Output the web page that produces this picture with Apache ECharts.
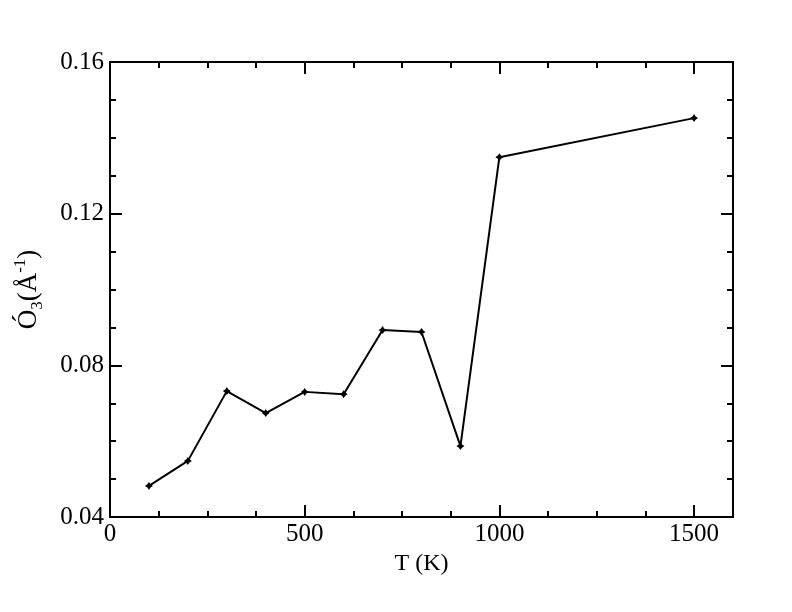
<!DOCTYPE html>
<html>
<head>
<meta charset="utf-8">
<script src="https://cdn.jsdelivr.net/npm/echarts@6/dist/echarts.min.js"></script>
<style>html,body{margin:0;padding:0;background:#fff}#c{width:792px;height:612px}</style>
</head>
<body>
<div id="c"></div>
<script>
const temperatures = [100, 200, 300, 400, 500, 600, 700, 800, 900, 1000, 1500];
const sigma3 = [0.0482, 0.0548, 0.0732, 0.0674, 0.0730, 0.0724, 0.0893, 0.0888, 0.0587, 0.1349, 0.1452];
const xTickLabels = ['0', '500', '1000', '1500'];
const yTickLabels = ['0.04', '0.08', '0.12', '0.16'];

const font = '"Liberation Serif", "Times New Roman", serif';
const chart = echarts.init(document.getElementById('c'), null, {renderer: 'canvas'});

function xAxisDef(pos, interval, tickLen, showLabel) {
  return {
    type: 'value', position: pos, min: 0, max: 1600, interval: interval,
    axisLine: {show: true, onZero: false, lineStyle: {color: '#000', width: 2}},
    axisTick: {show: true, inside: true, length: tickLen, lineStyle: {color: '#000', width: 2}},
    splitLine: {show: false},
    axisLabel: {
      show: showLabel, margin: 5, color: '#000', fontFamily: font, fontSize: 25,
      showMaxLabel: false,
      formatter: v => (xTickLabels.includes(String(v)) ? String(v) : '')
    }
  };
}
function yAxisDef(pos, interval, tickLen, showLabel) {
  return {
    type: 'value', position: pos, min: 0.04, max: 0.16, interval: interval,
    axisLine: {show: true, onZero: false, lineStyle: {color: '#000', width: 2}},
    axisTick: {show: true, inside: true, length: tickLen, lineStyle: {color: '#000', width: 2}},
    splitLine: {show: false},
    axisLabel: {
      show: showLabel, margin: 6, color: '#000', fontFamily: font, fontSize: 25,
      formatter: v => {
        const s = v.toFixed(2);
        return yTickLabels.includes(s) ? s : '';
      }
    }
  };
}

const xMain = xAxisDef('bottom', 500, 12, true);
xMain.name = 'T (K)';
xMain.nameLocation = 'middle';
xMain.nameGap = 29;
xMain.nameTextStyle = {color: '#000', fontFamily: font, fontSize: 24};

const yMain = yAxisDef('left', 0.04, 12, true);
yMain.name = '{a|Ó}{sub|3}{a|(Å}{sup|-1}{a|)}';
yMain.nameLocation = 'middle';
yMain.nameGap = 64;
yMain.nameTextStyle = {
  color: '#000', fontFamily: font, fontSize: 27,
  rich: {
    a: {fontFamily: font, fontSize: 27, color: '#000', lineHeight: 34, verticalAlign: 'middle'},
    sub: {fontFamily: font, fontSize: 17, color: '#000', lineHeight: 34, verticalAlign: 'bottom'},
    sup: {fontFamily: font, fontSize: 17, color: '#000', lineHeight: 34, verticalAlign: 'top'}
  }
};

chart.setOption({
  animation: false,
  backgroundColor: '#fff',
  grid: {left: 110, right: 59, top: 62, bottom: 95, containLabel: false},
  xAxis: [
    xMain,
    xAxisDef('bottom', 125, 6, false),
    xAxisDef('top', 500, 12, false),
    xAxisDef('top', 125, 6, false)
  ],
  yAxis: [
    yMain,
    yAxisDef('left', 0.01, 6, false),
    yAxisDef('right', 0.04, 12, false),
    yAxisDef('right', 0.01, 6, false)
  ],
  series: [{
    type: 'line',
    xAxisIndex: 0, yAxisIndex: 0,
    data: temperatures.map((t, i) => [t, sigma3[i]]),
    lineStyle: {color: '#000', width: 2},
    itemStyle: {color: '#000'},
    symbol: 'path://M0,-1L0.4,-0.4L1,0L0.4,0.4L0,1L-0.4,0.4L-1,0L-0.4,-0.4Z',
    symbolSize: 8,
    showSymbol: true
  }]
});
</script>
</body>
</html>
